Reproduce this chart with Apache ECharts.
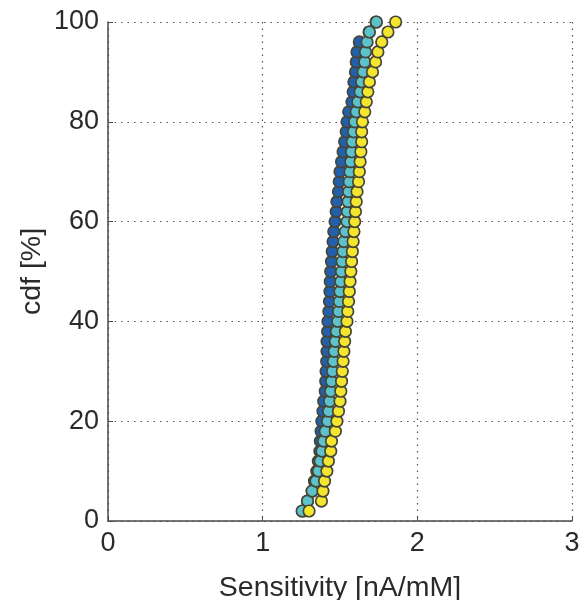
<!DOCTYPE html>
<html>
<head>
<meta charset="utf-8">
<script src="https://cdn.jsdelivr.net/npm/echarts@6/dist/echarts.min.js"></script>
<style>html,body{margin:0;padding:0;background:#fff}#c{width:582px;height:600px}</style>
</head>
<body>
<div id="c"></div>
<script>
// cumulative percentage levels (y)
const cdfLevels = [2,4,6,8,10,12,14,16,18,20,22,24,26,28,30,32,34,36,38,40,42,44,46,48,50,
  52,54,56,58,60,62,64,66,68,70,72,74,76,78,80,82,84,86,88,90,92,94,96,98,100];
// sensitivity values per series (x)
const blueSens = [1.26,1.29,1.32,1.335,1.35,1.36,1.37,1.373,1.378,1.383,1.39,1.395,1.405,1.408,1.41,1.414,1.416,1.416,1.42,1.422,
  1.428,1.432,1.435,1.437,1.44,1.445,1.45,1.455,1.46,1.468,1.475,1.48,1.49,1.495,1.50,1.51,1.52,1.53,1.54,1.545,
  1.556,1.577,1.585,1.59,1.60,1.605,1.61,1.625,1.688,1.733];
const cyanSens = [1.255,1.29,1.32,1.345,1.36,1.372,1.383,1.394,1.405,1.42,1.427,1.433,1.44,1.446,1.452,1.458,1.463,1.47,1.477,1.485,
  1.491,1.496,1.50,1.505,1.51,1.514,1.52,1.525,1.535,1.545,1.548,1.552,1.556,1.56,1.565,1.57,1.575,1.58,1.588,1.595,
  1.605,1.615,1.63,1.64,1.65,1.66,1.665,1.675,1.69,1.735];
const yellowSens = [1.30,1.38,1.39,1.40,1.415,1.425,1.44,1.445,1.47,1.48,1.49,1.50,1.505,1.51,1.515,1.52,1.525,1.53,1.535,1.545,
  1.55,1.555,1.56,1.565,1.57,1.575,1.58,1.585,1.59,1.595,1.60,1.605,1.61,1.62,1.625,1.63,1.635,1.64,1.64,1.645,
  1.66,1.67,1.68,1.69,1.71,1.73,1.745,1.77,1.81,1.86];
const xTicks = [0,1,2,3];
const yTicks = [0,20,40,60,80,100];

const pair = arr => arr.map((v,i) => [v, cdfLevels[i]]);
const font = 'Liberation Sans, Arial, Helvetica, sans-serif';
const chart = echarts.init(document.getElementById('c'), null, {renderer:'canvas'});
const mk = (data, color) => ({
  type:'scatter', data: pair(data), symbol:'circle', symbolSize:11.5,
  itemStyle:{color:color, borderColor:'#474535', borderWidth:1.7, opacity:1},
  emphasis:{disabled:true}
});
chart.setOption({
  animation:false,
  backgroundColor:'#ffffff',
  grid:{left:108, right:10, top:22, bottom:79, containLabel:false, outerBoundsMode:'none'},
  xAxis:{
    type:'value', min:xTicks[0], max:xTicks[xTicks.length-1], interval:1,
    name:'Sensitivity [nA/mM]', nameLocation:'middle', nameGap:53, nameMoveOverlap:false,
    nameTextStyle:{fontFamily:font, fontSize:28.5, color:'#2a2a2a'},
    axisLine:{show:true, onZero:false, lineStyle:{color:'#4a4a4a', width:1.5}},
    axisTick:{show:true, inside:true, length:5, lineStyle:{color:'#4a4a4a'}},
    axisLabel:{fontFamily:font, fontSize:27, color:'#2a2a2a', margin:9},
    splitLine:{show:true, lineStyle:{color:'#555', width:1.2, type:[1.5,5]}}
  },
  yAxis:{
    type:'value', min:yTicks[0], max:yTicks[yTicks.length-1], interval:20,
    name:'cdf [%]', nameLocation:'middle', nameGap:61, nameMoveOverlap:false,
    nameTextStyle:{fontFamily:font, fontSize:28.5, color:'#2a2a2a'},
    axisLine:{show:true, onZero:false, lineStyle:{color:'#4a4a4a', width:1.5}},
    axisTick:{show:true, inside:true, length:5, lineStyle:{color:'#4a4a4a'}},
    axisLabel:{fontFamily:font, fontSize:27, color:'#2a2a2a', margin:9},
    splitLine:{show:true, lineStyle:{color:'#555', width:1.2, type:[1.5,5]}}
  },
  series:[
    mk(blueSens, '#2260ac'),
    mk(cyanSens, '#5cc2cc'),
    mk(yellowSens, '#f4e62e')
  ]
});
</script>
</body>
</html>
